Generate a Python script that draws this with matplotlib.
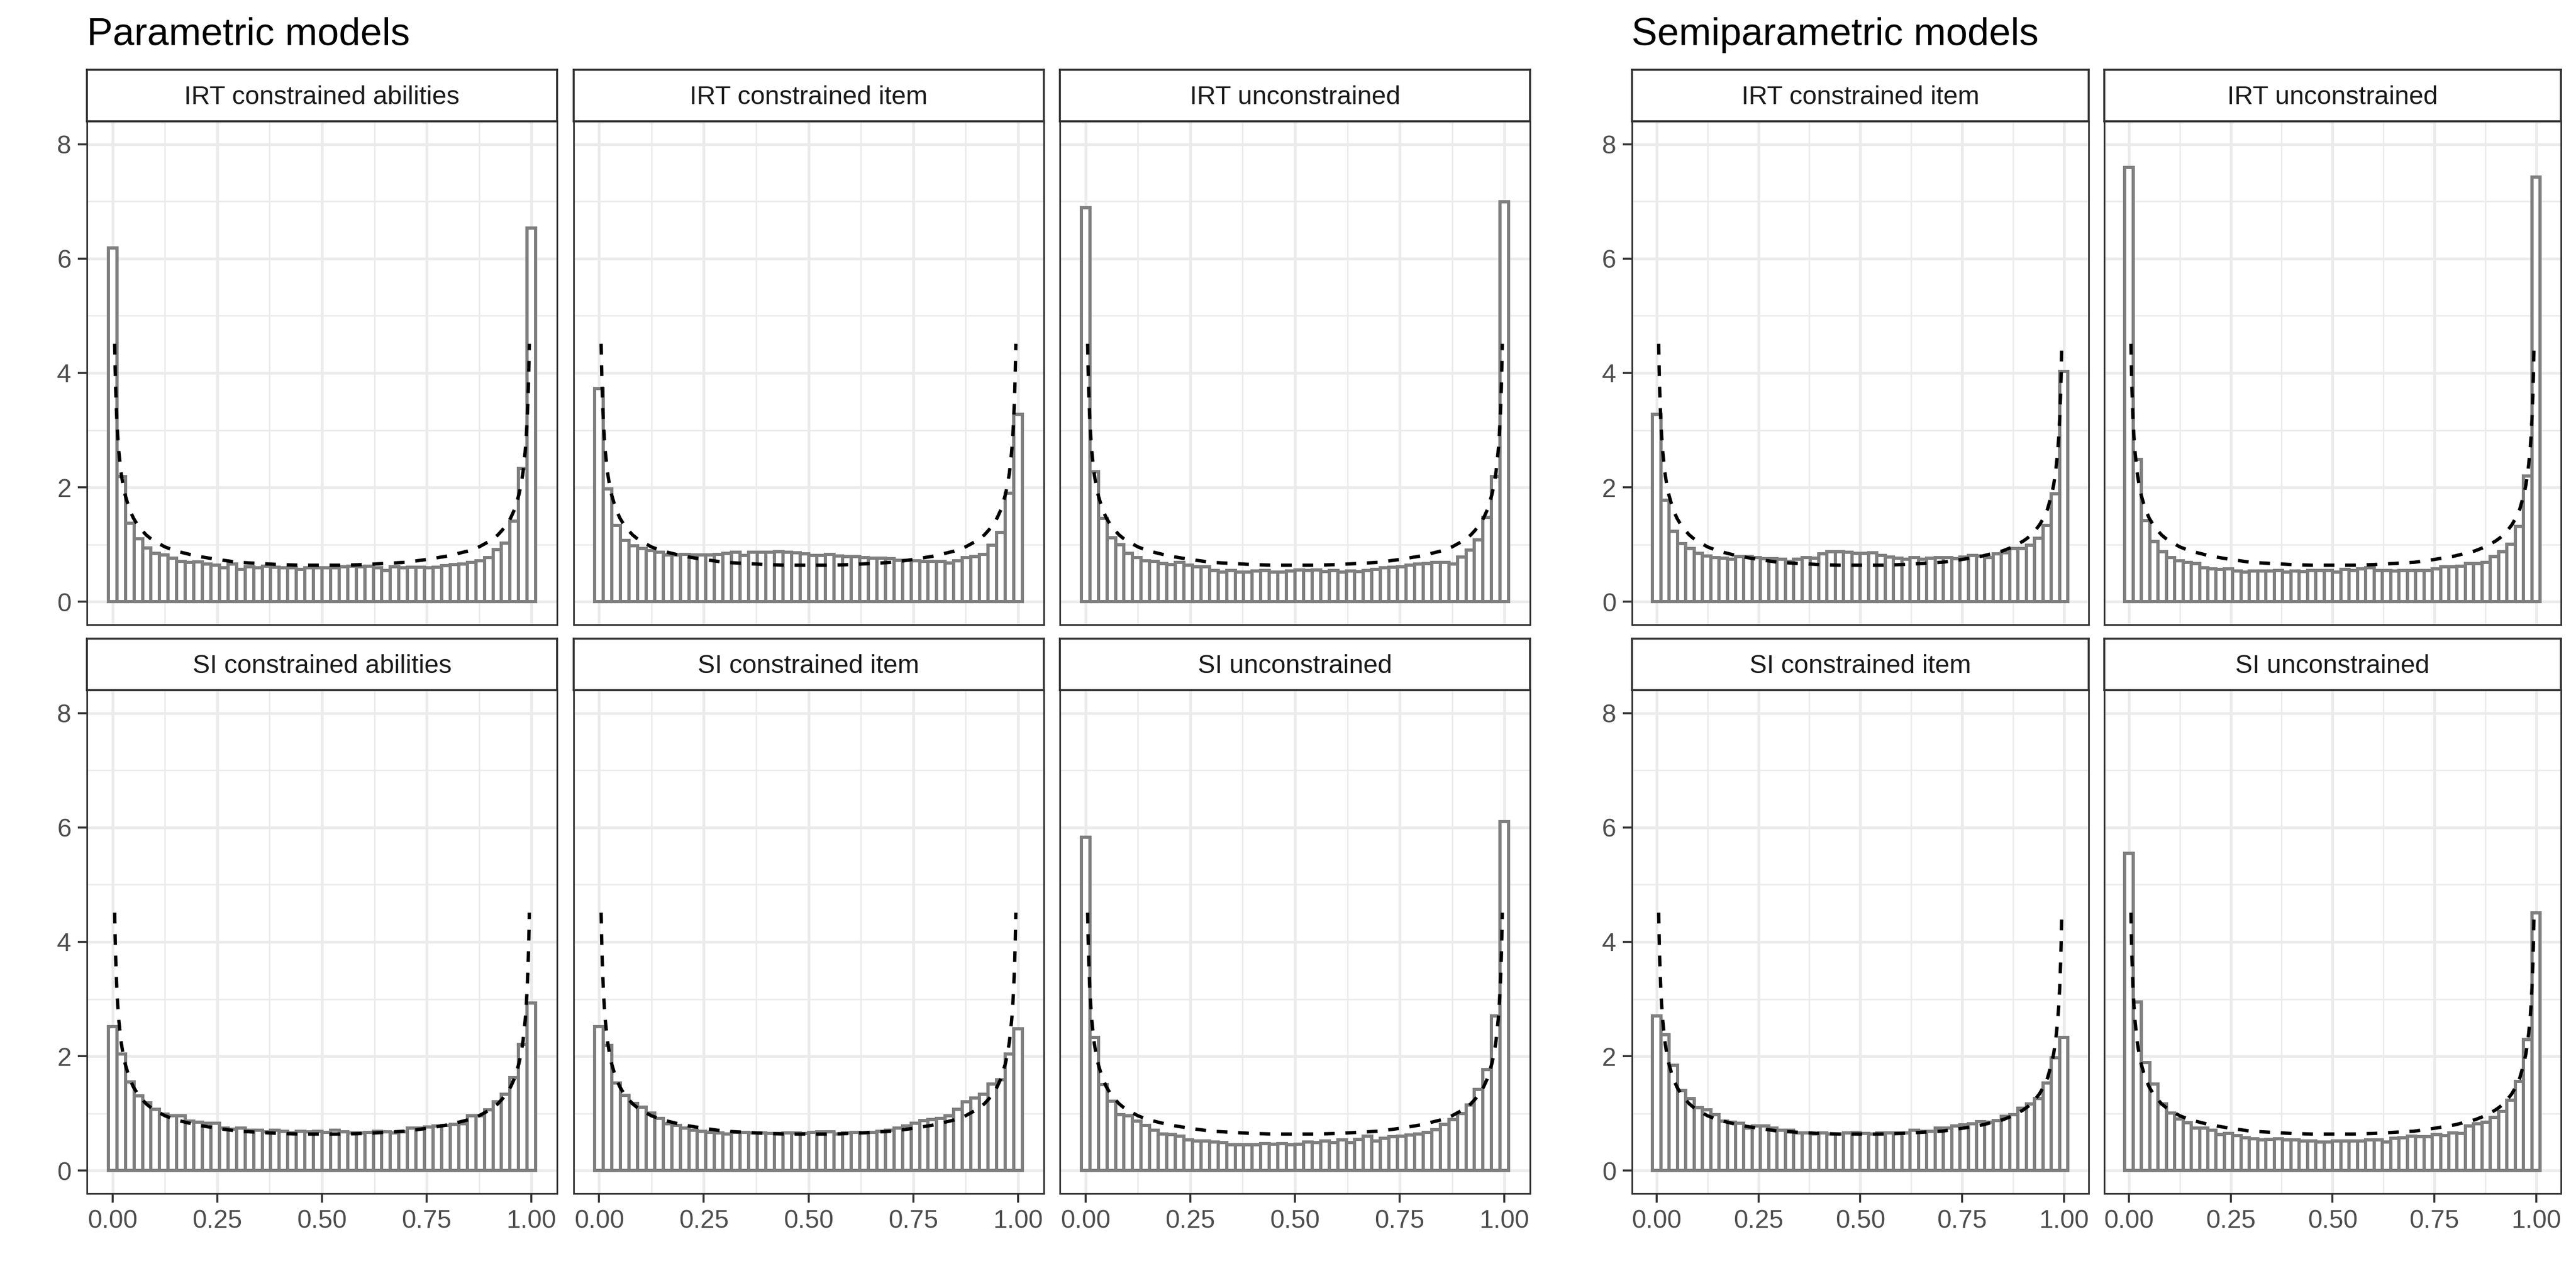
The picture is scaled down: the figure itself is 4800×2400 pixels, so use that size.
import numpy as np
import matplotlib
matplotlib.use("Agg")
import matplotlib.pyplot as plt
from matplotlib.ticker import FixedLocator

plt.rcParams["font.family"] = ["Liberation Sans", "DejaVu Sans"]

# density per bin, 50 bins centred on k/49
par_irt_abilities = [
    6.19, 2.19, 1.37, 1.10, 0.94, 0.85, 0.82, 0.76, 0.71, 0.69,
    0.70, 0.66, 0.64, 0.59, 0.66, 0.57, 0.61, 0.59, 0.62, 0.60,
    0.59, 0.59, 0.57, 0.59, 0.59, 0.59, 0.59, 0.61, 0.62, 0.61,
    0.62, 0.59, 0.55, 0.61, 0.59, 0.60, 0.60, 0.59, 0.60, 0.63,
    0.65, 0.66, 0.69, 0.72, 0.77, 0.91, 1.03, 1.41, 2.33, 6.53]
par_irt_item = [
    3.73, 1.97, 1.34, 1.07, 0.98, 0.93, 0.89, 0.87, 0.82, 0.82,
    0.83, 0.82, 0.82, 0.82, 0.83, 0.85, 0.87, 0.81, 0.87, 0.87,
    0.87, 0.88, 0.87, 0.86, 0.84, 0.81, 0.81, 0.83, 0.80, 0.79,
    0.79, 0.77, 0.76, 0.76, 0.75, 0.73, 0.73, 0.72, 0.71, 0.71,
    0.71, 0.68, 0.72, 0.77, 0.79, 0.83, 0.99, 1.21, 1.90, 3.28]
par_irt_uncon = [
    6.89, 2.27, 1.46, 1.12, 1.00, 0.85, 0.77, 0.72, 0.71, 0.67,
    0.65, 0.69, 0.64, 0.61, 0.61, 0.55, 0.52, 0.55, 0.52, 0.52,
    0.54, 0.55, 0.52, 0.52, 0.54, 0.56, 0.55, 0.56, 0.53, 0.55,
    0.52, 0.54, 0.53, 0.55, 0.57, 0.59, 0.60, 0.61, 0.64, 0.66,
    0.67, 0.69, 0.69, 0.66, 0.78, 0.90, 1.08, 1.48, 2.19, 6.99]
par_si_abilities = [
    2.52, 2.04, 1.55, 1.31, 1.19, 1.07, 0.99, 0.96, 0.96, 0.87,
    0.85, 0.83, 0.83, 0.74, 0.73, 0.74, 0.71, 0.71, 0.68, 0.71,
    0.69, 0.66, 0.69, 0.68, 0.69, 0.67, 0.71, 0.68, 0.66, 0.66,
    0.67, 0.69, 0.68, 0.66, 0.68, 0.74, 0.74, 0.76, 0.78, 0.79,
    0.81, 0.82, 0.96, 0.96, 1.06, 1.20, 1.34, 1.63, 2.21, 2.93]
par_si_item = [
    2.52, 2.19, 1.53, 1.32, 1.18, 1.11, 1.01, 0.91, 0.82, 0.79,
    0.74, 0.71, 0.69, 0.67, 0.66, 0.64, 0.67, 0.67, 0.66, 0.66,
    0.65, 0.65, 0.66, 0.66, 0.65, 0.67, 0.68, 0.68, 0.64, 0.66,
    0.67, 0.66, 0.67, 0.69, 0.71, 0.74, 0.78, 0.83, 0.88, 0.89,
    0.91, 0.96, 1.07, 1.20, 1.27, 1.34, 1.51, 1.59, 2.04, 2.48]
par_si_uncon = [
    5.83, 2.33, 1.50, 1.21, 0.98, 0.96, 0.87, 0.79, 0.71, 0.64,
    0.63, 0.60, 0.54, 0.52, 0.52, 0.50, 0.49, 0.45, 0.45, 0.45,
    0.45, 0.47, 0.46, 0.47, 0.45, 0.46, 0.50, 0.49, 0.52, 0.49,
    0.54, 0.49, 0.55, 0.60, 0.52, 0.57, 0.59, 0.60, 0.62, 0.64,
    0.67, 0.72, 0.81, 0.89, 1.00, 1.15, 1.42, 1.77, 2.71, 6.10]
semi_irt_item = [
    3.28, 1.78, 1.23, 1.02, 0.93, 0.85, 0.80, 0.77, 0.76, 0.74,
    0.79, 0.79, 0.77, 0.75, 0.75, 0.74, 0.71, 0.74, 0.77, 0.76,
    0.84, 0.88, 0.88, 0.87, 0.85, 0.85, 0.86, 0.81, 0.78, 0.76,
    0.74, 0.77, 0.74, 0.76, 0.77, 0.77, 0.75, 0.78, 0.81, 0.80,
    0.77, 0.84, 0.86, 0.93, 0.93, 0.99, 1.11, 1.34, 1.89, 4.03]
semi_irt_uncon = [
    7.59, 2.49, 1.42, 1.05, 0.88, 0.77, 0.72, 0.69, 0.67, 0.59,
    0.58, 0.57, 0.58, 0.54, 0.52, 0.54, 0.54, 0.54, 0.55, 0.52,
    0.54, 0.53, 0.55, 0.55, 0.55, 0.52, 0.57, 0.55, 0.58, 0.59,
    0.55, 0.55, 0.54, 0.55, 0.55, 0.55, 0.55, 0.58, 0.61, 0.61,
    0.62, 0.67, 0.67, 0.69, 0.79, 0.88, 1.01, 1.32, 2.20, 7.42]
semi_si_item = [
    2.71, 2.38, 1.84, 1.40, 1.26, 1.10, 1.06, 0.98, 0.87, 0.85,
    0.83, 0.74, 0.78, 0.78, 0.74, 0.71, 0.71, 0.66, 0.66, 0.64,
    0.66, 0.64, 0.64, 0.66, 0.67, 0.65, 0.64, 0.66, 0.66, 0.66,
    0.66, 0.71, 0.69, 0.69, 0.74, 0.74, 0.78, 0.80, 0.82, 0.86,
    0.85, 0.88, 0.95, 0.98, 1.09, 1.17, 1.26, 1.53, 1.97, 2.33]
semi_si_uncon = [
    5.55, 2.95, 1.89, 1.51, 1.17, 1.01, 0.90, 0.84, 0.74, 0.74,
    0.71, 0.63, 0.65, 0.61, 0.58, 0.56, 0.54, 0.55, 0.56, 0.54,
    0.54, 0.52, 0.52, 0.50, 0.50, 0.52, 0.52, 0.52, 0.52, 0.54,
    0.54, 0.50, 0.57, 0.58, 0.60, 0.59, 0.59, 0.63, 0.61, 0.66,
    0.65, 0.78, 0.82, 0.85, 0.93, 1.04, 1.23, 1.56, 2.29, 4.51]

# reference density (dashed line)
curve_x = [0.005, 0.0065, 0.0075, 0.01, 0.0125, 0.015, 0.02, 0.025, 0.03, 0.04,
           0.05, 0.06, 0.07, 0.08, 0.09, 0.10, 0.125, 0.15, 0.2, 0.25,
           0.3, 0.35, 0.4, 0.45, 0.5,
           0.55, 0.6, 0.65, 0.7, 0.75, 0.8, 0.85, 0.875, 0.9, 0.91,
           0.92, 0.93, 0.94, 0.95, 0.96, 0.97, 0.975, 0.98, 0.985, 0.9875,
           0.99, 0.9925, 0.9935, 0.995]
curve_y = [4.51, 3.96, 3.69, 3.20, 2.87, 2.62, 2.27, 2.04, 1.87, 1.62,
           1.46, 1.34, 1.25, 1.17, 1.11, 1.06, 0.96, 0.89, 0.80, 0.74,
           0.69, 0.67, 0.65, 0.64, 0.64,
           0.64, 0.65, 0.67, 0.69, 0.74, 0.80, 0.89, 0.96, 1.06, 1.11,
           1.17, 1.25, 1.34, 1.46, 1.62, 1.87, 2.04, 2.27, 2.62, 2.87,
           3.20, 3.69, 3.96, 4.51]

x_ticks = [0, 0.25, 0.5, 0.75, 1]
x_tick_labels = ["0.00", "0.25", "0.50", "0.75", "1.00"]
x_minor = [0.125, 0.375, 0.625, 0.875]
y_ticks = [0, 2, 4, 6, 8]
y_tick_labels = ["0", "2", "4", "6", "8"]
y_minor = [1, 3, 5, 7]

left_titles = [["IRT constrained abilities", "IRT constrained item", "IRT unconstrained"],
               ["SI constrained abilities", "SI constrained item", "SI unconstrained"]]
left_data = [[par_irt_abilities, par_irt_item, par_irt_uncon],
             [par_si_abilities, par_si_item, par_si_uncon]]
right_titles = [["IRT constrained item", "IRT unconstrained"],
                ["SI constrained item", "SI unconstrained"]]
right_data = [[semi_irt_item, semi_irt_uncon],
              [semi_si_item, semi_si_uncon]]

# layout in output pixels (4800 x 2400)
W, H = 4800, 2400
STRIP_H = 96
PANEL_H = 938
ROW_TOPS = [130, 1190]

GRID = "#EBEBEB"
DARK = "#333333"
TICK_TXT = "#4D4D4D"

fig = plt.figure(figsize=(16, 8), dpi=300)


def px_rect(left, top, width, height):
    return [left / W, 1 - (top + height) / H, width / W, height / H]


def draw_panel(left, top, width, title, heights, show_x, show_y):
    ax = fig.add_axes(px_rect(left, top + STRIP_H, width, PANEL_H))
    n = len(heights)
    bw = 1 / (n - 1)
    centers = np.arange(n) * bw
    ax.bar(centers, heights, width=bw, color="white", edgecolor="#7F7F7F",
           linewidth=1.45, zorder=2)
    ax.plot(curve_x, curve_y, color="black", lw=1.5,
            linestyle=(0, (3.2, 3.2)), zorder=3)

    ax.set_xlim(-0.0612, 1.0612)
    ax.set_ylim(-0.4, 8.4)
    ax.set_axisbelow(True)
    ax.xaxis.set_major_locator(FixedLocator(x_ticks))
    ax.xaxis.set_minor_locator(FixedLocator(x_minor))
    ax.yaxis.set_major_locator(FixedLocator(y_ticks))
    ax.yaxis.set_minor_locator(FixedLocator(y_minor))
    ax.set_xticklabels(x_tick_labels)
    ax.set_yticklabels(y_tick_labels)
    ax.grid(True, which="major", color=GRID, lw=1.25)
    ax.grid(True, which="minor", color=GRID, lw=0.65)
    ax.tick_params(which="minor", length=0)
    ax.tick_params(which="major", direction="out", length=4, width=0.9,
                   color=DARK, labelsize=11.5, labelcolor=TICK_TXT, pad=3)
    ax.tick_params(axis="x", bottom=show_x, labelbottom=show_x)
    ax.tick_params(axis="y", left=show_y, labelleft=show_y)
    for sp in ax.spines.values():
        sp.set_color(DARK)
        sp.set_linewidth(0.75)

    strip = fig.add_axes(px_rect(left, top, width, STRIP_H))
    strip.set_xticks([])
    strip.set_yticks([])
    strip.set_facecolor("white")
    for sp in strip.spines.values():
        sp.set_color(DARK)
        sp.set_linewidth(0.9)
    strip.text(0.5, 0.46, title, ha="center", va="center", fontsize=11.6,
               color="#1A1A1A", transform=strip.transAxes)


def draw_group(x0, width, gap, titles, data, label):
    for r, top in enumerate(ROW_TOPS):
        for c in range(len(titles[r])):
            left = x0 + c * (width + gap)
            draw_panel(left, top, width, titles[r][c], data[r][c],
                       show_x=(r == len(ROW_TOPS) - 1), show_y=(c == 0))
    fig.text(x0 / W, 1 - 84 / H, label, ha="left", va="baseline",
             fontsize=17.3, color="black")


draw_group(162, 876, 30.5, left_titles, left_data, "Parametric models")
draw_group(3040.5, 851.5, 28.5, right_titles, right_data, "Semiparametric models")

fig.savefig("out.png", dpi=300, facecolor="white")
